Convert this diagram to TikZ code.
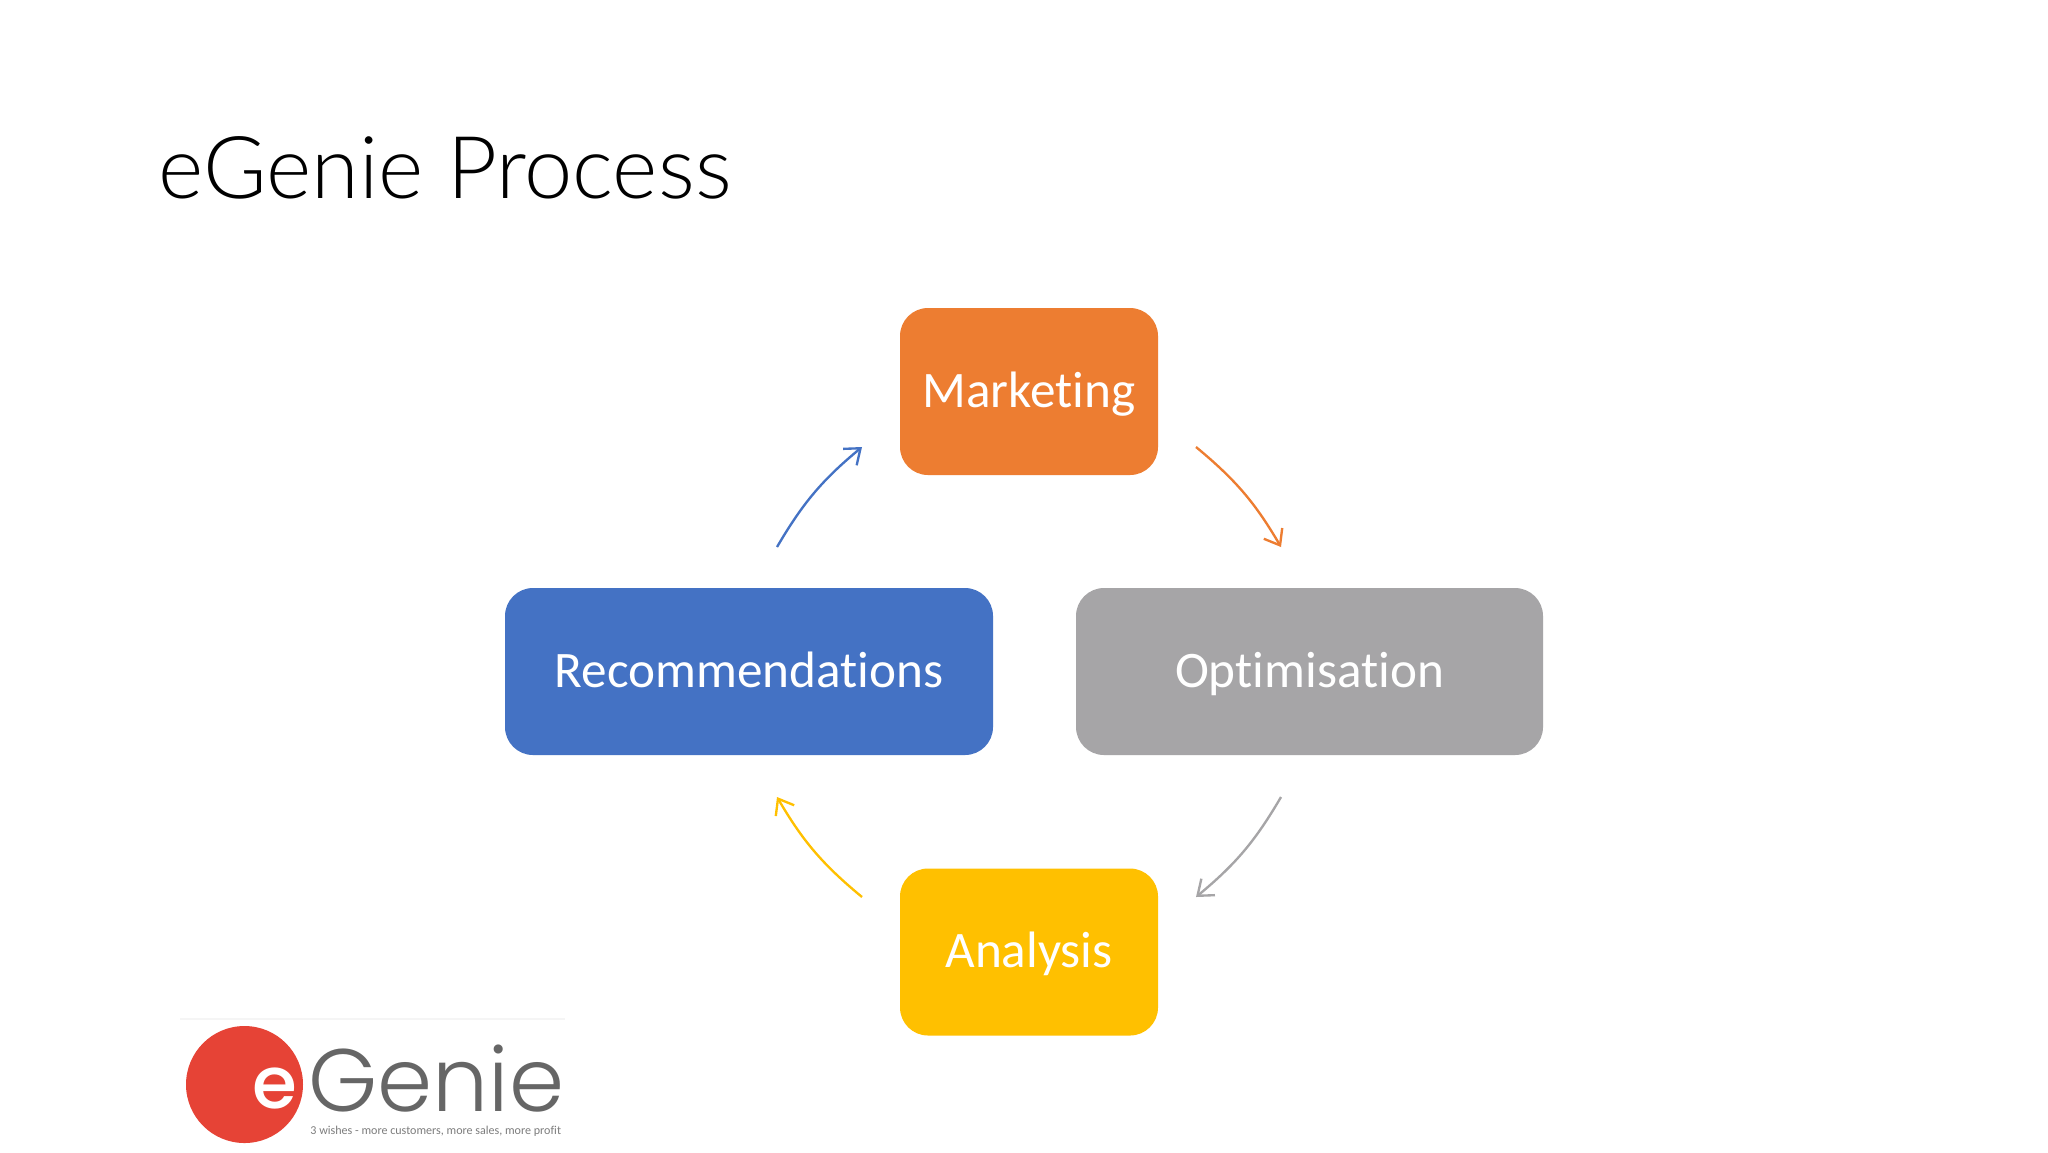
\documentclass[tikz,border=0pt]{standalone}
\usepackage{fontspec}
\usetikzlibrary{arrows.meta}
\setmainfont{Carlito}[Ligatures=NoCommon]
\newfontfamily\titlefont{Lato Light}
\newfontfamily\logofont{Poppins Light}
\newfontfamily\logobold{Poppins Medium}
\definecolor{mktorange}{HTML}{ED7D31}
\definecolor{optgrey}{HTML}{A6A5A7}
\definecolor{anayellow}{HTML}{FFC000}
\definecolor{recblue}{HTML}{4472C4}
\definecolor{logored}{HTML}{E64336}
\definecolor{logogrey}{HTML}{666666}
\newcommand{\px}{0.46875bp}
\tikzset{
  stagebox/.style={fill=#1,text=white,rounded corners=28*\px,inner sep=0pt,
    minimum height=167*\px,text height=31*\px,text depth=0pt,font=\fontsize{24bp}{28bp}\selectfont},
  cyclearrow/.style={draw=#1,line width=1.1bp,-{Straight Barb[length=6.5bp,width=10bp,line width=1.1bp]}},
}
\begin{document}
\begin{tikzpicture}[x=\px,y=-\px]
\useasboundingbox[fill=white] (0,0) rectangle (2048,1152);
\node[anchor=base west,inner sep=0pt,font=\titlefont\fontsize{40.6bp}{50bp}\selectfont] (title) at (158,198) {eGenie Process};
% the four stages
\node[stagebox=mktorange,minimum width=258*\px] (marketing) at (1029,391.5) {Marketing};
\node[stagebox=optgrey,minimum width=467*\px] (optimisation) at (1309.5,671.5) {Optimisation};
\node[stagebox=anayellow,minimum width=258*\px] (analysis) at (1029,952) {Analysis};
\node[stagebox=recblue,minimum width=488*\px] (recommendations) at (749,671.5) {Recommendations};
% free ends of the arrows
\coordinate (mktout) at (1196,447);
\coordinate (optin) at (1281,547);
\coordinate (optout) at (1281,797);
\coordinate (anain) at (1196,897);
\coordinate (anaout) at (862,897);
\coordinate (recin) at (777,797);
\coordinate (recout) at (777,547);
\coordinate (mktin) at (862,447);
\draw[cyclearrow=mktorange] (mktout) to[bend left=10] (optin);
\draw[cyclearrow=optgrey] (optout) to[bend left=10] (anain);
\draw[cyclearrow=anayellow] (anaout) to[bend left=10] (recin);
\draw[cyclearrow=recblue] (recout) to[bend left=10] (mktin);
% logo
\draw[black!4,line width=0.5bp] (180,1019) coordinate (logoleft) -- (565,1019) coordinate (logoright);
\node[circle,fill=logored,minimum size=117*\px,inner sep=0pt] (logodisc) at (244.5,1084.5) {};
\node[anchor=base,inner sep=0pt,text=white,text depth=0pt,font=\logobold\fontsize{34bp}{40bp}\selectfont] (logoe) at (275,1108) {e};
\node[anchor=base west,inner sep=0pt,text=logogrey,text depth=0pt,font=\logofont\fontsize{41.5bp}{50bp}\selectfont] (logoname) at (308,1111) {Genie};
\node[anchor=base west,inner sep=0pt,text=logogrey!85,font=\fontsize{5.65bp}{7bp}\selectfont] (logotag) at (310,1134) {3 wishes - more customers, more sales, more profit};
\end{tikzpicture}
\end{document}
